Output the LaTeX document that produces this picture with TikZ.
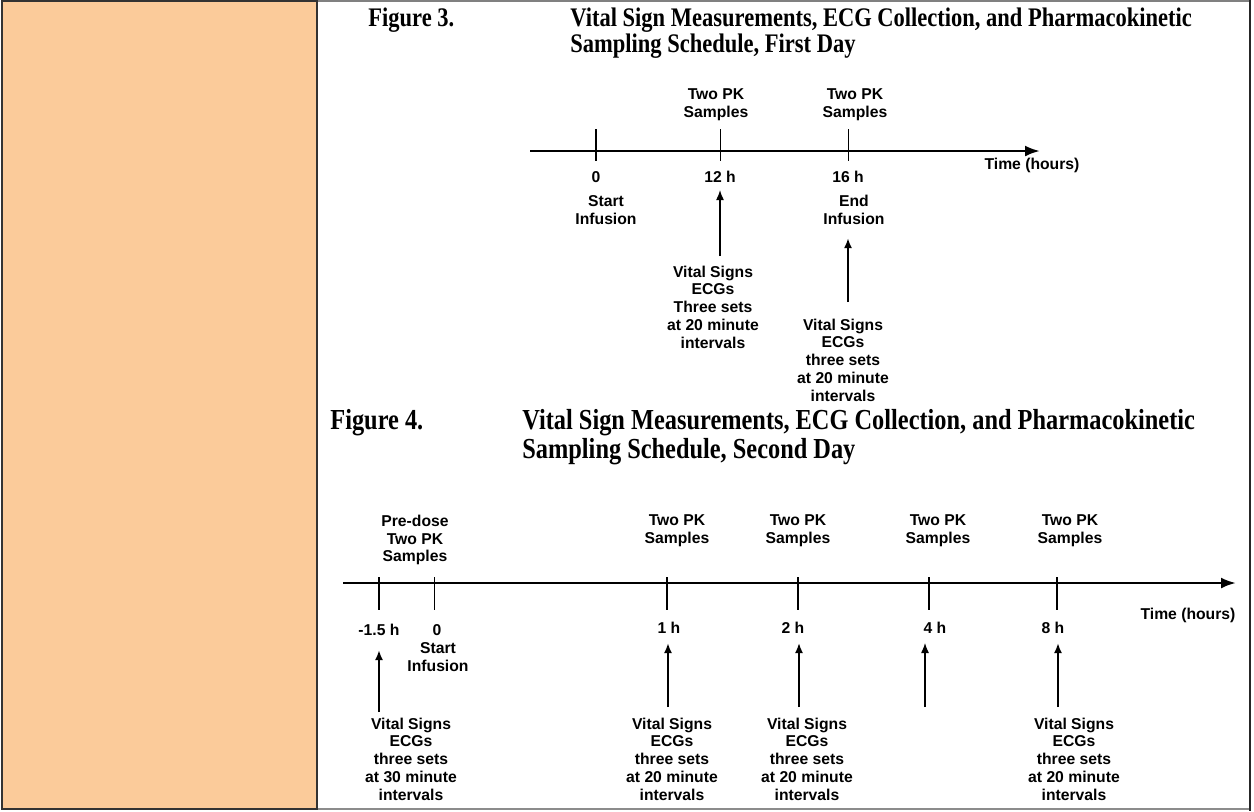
\documentclass[tikz,border=0pt]{standalone}
\usepackage{fontspec}
\setmainfont{Liberation Serif}
\setsansfont{Liberation Sans}
\newfontfamily\titlefont[FakeStretch=0.84]{Liberation Serif Bold}
\usetikzlibrary{arrows.meta}
\definecolor{panel}{RGB}{251,203,154}
\tikzset{
  lbl/.style={font=\sffamily\bfseries\fontsize{7.85}{8.9}\selectfont,
    align=center,inner sep=0pt},
  ttlA/.style={font=\titlefont\fontsize{13.4}{13.4}\selectfont,
    anchor=base west,inner sep=0pt},
  ttlB/.style={font=\titlefont\fontsize{14.5}{14.5}\selectfont,
    anchor=base west,inner sep=0pt},
  axis/.style={line width=1.3pt,-{Latex[length=7.5pt,width=5.5pt]}},
  up/.style={->,line width=0.6pt},
  upthick/.style={->,line width=1.1pt}
}
\begin{document}
\begin{tikzpicture}[x=0.5pt,y=-0.5pt,>={Latex[length=5pt,width=4pt]}]
    \useasboundingbox (0,0) rectangle (1254,811);
    % frame
    \fill[panel] (2,1) rectangle (317,809);
    \draw[line width=0.6pt,black!50] (317,1) -- (1250,1);
    \draw[line width=0.6pt,black!45] (317,809) -- (1250,809);
    \draw[line width=1pt,black!80] (2,1) rectangle (317,809);
    \draw[line width=1.2pt,black!85] (1250,0) -- (1250,811);
    % figure 3 title
    \node[ttlA] (f3) at (368,26) {Figure 3.};
    \node[ttlA] (f3a) at (570,26)
      {Vital Sign Measurements, ECG Collection, and Pharmacokinetic};
    \node[ttlA] (f3b) at (570,52) {Sampling Schedule, First Day};
    % first day axis
    \draw[axis] (530,151) -- (1040,151);
    \draw[line width=0.7pt] (596,129) -- (596,161);
    \foreach \xx in {720,848}{%
      \draw[line width=0.4pt] (\xx,129) -- (\xx,161);}
    \node[lbl] (d1tm) at (1032,165) {Time (hours)};
    % first day labels
    \node[lbl] (d1pk12) at (716,105) {Two PK\\Samples};
    \node[lbl] (d1pk16) at (855,105) {Two PK\\Samples};
    \node[lbl] (d1h0) at (596,177) {0};
    \node[lbl] (d1h12) at (720,177) {12 h};
    \node[lbl] (d1h16) at (848,177) {16 h};
    \node[lbl] (d1st) at (606,210) {Start\\Infusion};
    \node[lbl] (d1en) at (854,210) {End\\Infusion};
    \node[lbl] (d1vs12) at (713,307)
      {Vital Signs\\ECGs\\Three sets\\at 20 minute\\intervals};
    \node[lbl] (d1vs16) at (843,360)
      {Vital Signs\\ECGs\\three sets\\at 20 minute\\intervals};
    % first day arrows
    \coordinate (d1a12) at (720,256);
    \coordinate (d1a16) at (848,302);
    \draw[up] (d1a12) -- ([yshift=-3.5pt]d1h12.south);
    \draw[upthick] (d1a16) -- ([yshift=-6.5pt]d1en.south -| d1a16);
    % figure 4 title
    \node[ttlB] (f4) at (330,429) {Figure 4.};
    \node[ttlB] (f4a) at (522,429)
      {Vital Sign Measurements, ECG Collection, and Pharmacokinetic};
    \node[ttlB] (f4b) at (522,458) {Sampling Schedule, Second Day};
    % second day axis
    \draw[axis] (343,583) -- (1236,583);
    \foreach \xx in {379,667,798,929,1057}{%
      \draw[line width=0.7pt] (\xx,577) -- (\xx,610);}
    \draw[line width=0.4pt] (434,577) -- (434,610);
    \node[lbl] (d2tm) at (1188,615) {Time (hours)};
    % second day labels
    \node[lbl] (d2pre) at (415,540) {Pre-dose\\Two PK\\Samples};
    \foreach \nm/\xx in {1/677,2/798,4/938,8/1070}{%
      \node[lbl] (d2pk\nm) at (\xx,531) {Two PK\\Samples};}
    \node[lbl] (d2hm) at (379,630) {-1.5 h};
    \node[lbl] (d2h0) at (437,630) {0};
    \node[lbl] (d2st) at (438,657) {Start\\Infusion};
    \foreach \nm/\xx in {1/669,2/793,4/935,8/1053}{%
      \node[lbl] (d2h\nm) at (\xx,628) {\nm\ h};}
    \node[lbl] (d2vsm) at (411,759)
      {Vital Signs\\ECGs\\three sets\\at 30 minute\\intervals};
    \foreach \nm/\xx in {1/672,2/807,8/1074}{%
      \node[lbl] (d2vs\nm) at (\xx,759)
        {Vital Signs\\ECGs\\three sets\\at 20 minute\\intervals};}
    % second day arrows
    \coordinate (d2am) at (379,712);
    \draw[upthick] (d2am) -- (d2am |- 650,650);
    \foreach \nm/\xx/\lw in {1/668/1.1pt,2/799/0.9pt,4/925/0.6pt,8/1058/1.1pt}{%
      \coordinate (d2a\nm) at (\xx,707);
      \draw[->,line width=\lw] (d2a\nm) -- (\xx,643);}
\end{tikzpicture}
\end{document}
